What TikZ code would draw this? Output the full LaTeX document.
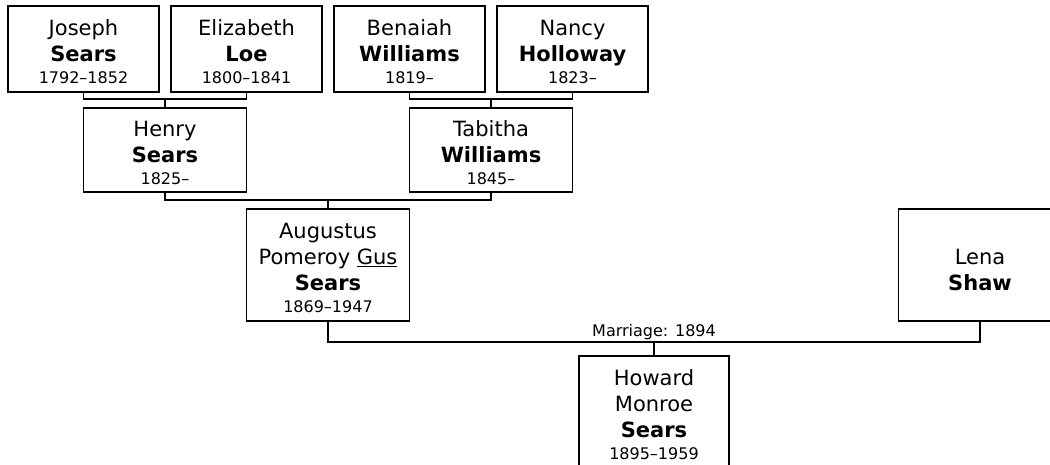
\documentclass[tikz,border=0pt]{standalone}
\usepackage{fontspec}
\setmainfont{DejaVu Sans}
\usetikzlibrary{positioning,calc}
\newcommand{\yrs}[1]{{\fontsize{16}{19}\selectfont #1}}
\newcommand{\tstrut}[1][22pt]{\rule{0pt}{#1}}

\begin{document}
\begin{tikzpicture}[
  x=1pt, y=1pt,
  node distance=12pt,
  person/.style={draw, line width=1.5pt, align=center, inner sep=0pt, outer sep=0pt,
                 minimum width=151pt, minimum height=86pt,
                 font=\fontsize{21}{26}\selectfont},
  child/.style={person, minimum width=163pt, minimum height=84pt},
  link/.style={line width=1.5pt},
  note/.style={font=\fontsize{16}{19}\selectfont, inner sep=2pt}
]
\useasboundingbox (0,0) rectangle (1050,-465);
\clip (0,0) rectangle (1050,-465);

% grandparents
\node[person, anchor=north west] (joseph) at (8,-6)
  {\tstrut Joseph\\\textbf{Sears}\\[-4pt]\yrs{1792--1852}};
\node[person, right=of joseph] (elizabeth)
  {\tstrut Elizabeth\\\textbf{Loe}\\[-4pt]\yrs{1800--1841}};
\node[person, right=of elizabeth] (benaiah)
  {\tstrut Benaiah\\\textbf{Williams}\\[-4pt]\yrs{1819--}};
\node[person, right=of benaiah] (nancy)
  {\tstrut Nancy\\\textbf{Holloway}\\[-4pt]\yrs{1823--}};

% parents
\coordinate (jeBar) at ($(joseph.south)!0.5!(elizabeth.south)+(0,-7)$);
\coordinate (bnBar) at ($(benaiah.south)!0.5!(nancy.south)+(0,-7)$);
\node[child, below=9pt of jeBar] (henry)
  {\tstrut Henry\\\textbf{Sears}\\[-4pt]\yrs{1825--}};
\node[child, below=9pt of bnBar] (tabitha)
  {\tstrut Tabitha\\\textbf{Williams}\\[-4pt]\yrs{1845--}};

\draw[link] (joseph.south) |- (jeBar) -| (elizabeth.south);
\draw[link] (jeBar) -- (henry.north);
\draw[link] (benaiah.south) |- (bnBar) -| (nancy.south);
\draw[link] (bnBar) -- (tabitha.north);

% Gus and Lena
\coordinate (htBar) at ($(henry.south)!0.5!(tabitha.south)+(0,-8)$);
\node[child, minimum height=112pt, below=9pt of htBar] (augustus)
  {\tstrut Augustus\\Pomeroy \underline{Gus}\\\textbf{Sears}\\[-4pt]\yrs{1869--1947}};
\node[child, minimum height=112pt, right=489pt of augustus] (lena)
  {\tstrut[26pt]Lena\\\textbf{Shaw}};

\draw[link] (henry.south) |- (htBar) -| (tabitha.south);
\draw[link] (htBar) -- (augustus.north);

% marriage and son
\coordinate (alBar) at ($(augustus.south)+(0,-21)$);
\coordinate (marriage) at ($(alBar)!0.5!(alBar -| lena.south)$);
\draw[link] (augustus.south) -- (alBar) -| (lena.south);
\node[note, above] (mlabel) at (marriage) {Marriage: 1894};
\node[person, minimum width=150pt, minimum height=112pt, below=14pt of marriage] (howard)
  {\tstrut Howard\\Monroe\\\textbf{Sears}\\[-4pt]\yrs{1895--1959}};
\draw[link] (marriage) -- (howard.north);
\end{tikzpicture}
\end{document}
